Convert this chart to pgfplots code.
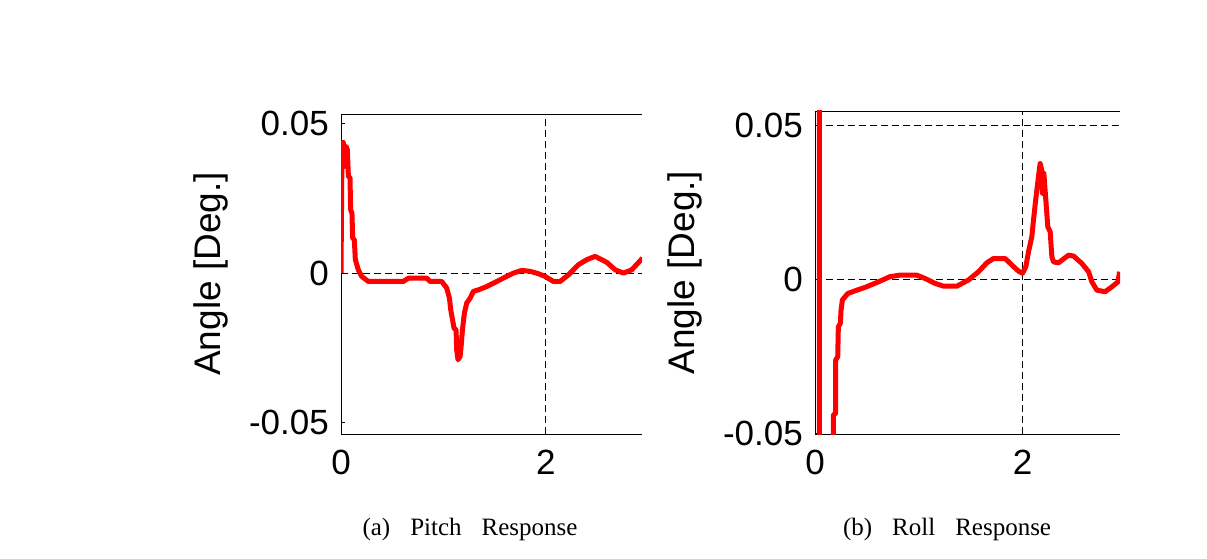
\documentclass[border=0pt]{standalone}
\usepackage{fontspec}
\setmainfont{Liberation Sans}
\newfontfamily\capfont{Liberation Serif}
\usepackage{pgfplots}
\pgfplotsset{compat=1.18}

\definecolor{respred}{RGB}{255,0,0}

\pgfplotsset{
  resp/.style={
    scale only axis, anchor=south west,
    xmin=0, xmax=2.94,
    xtick={0,2},
    axis x line=box, axis y line=left,
    axis line style={-, line width=0.9pt, black},
    tick align=inside, tick pos=left,
    major tick length=4pt,
    tick style={black, line width=0.8pt},
    grid style={black, line width=0.8pt, dash pattern=on 7pt off 4pt},
    scaled y ticks=false,
    /pgf/number format/assume math mode=true,
    /pgf/number format/fixed,
    /pgf/number format/precision=2,
    tick label style={font=\fontsize{35}{40}\selectfont},
    yticklabel style={inner sep=0pt, xshift=-12pt},
    xticklabel style={inner sep=0pt, yshift=-16pt},
    ylabel={Angle [Deg.]},
    ylabel style={at={(rel axis cs:0,0.5)}, anchor=center, yshift=130pt,
      font=\fontsize{37}{42}\selectfont},
    xlabel style={anchor=center, font=\capfont\fontsize{25}{30}\selectfont},
  },
  respline/.style={respred, line width=5pt, line join=round},
}

\begin{document}
\begin{tikzpicture}
\useasboundingbox (0,0) rectangle (1207pt,558pt);

% (a) pitch
\begin{axis}[resp,
  at={(341pt,124pt)}, width=301pt, height=320pt,
  ymin=-0.0538, ymax=0.0532,
  ytick={-0.05,0.05},
  extra y ticks={0}, extra y tick labels={0},
  extra y tick style={ymajorgrids=true},
  xmajorgrids,
  xlabel={(a)\hspace{0.8em}Pitch\hspace{0.8em}Response},
  xlabel style={at={(rel axis cs:0.4286,0)}, yshift=-95pt},
]
\addplot[respline] coordinates {
(0,0) (0.010,0.0435) (0.023,0.0437) (0.036,0.0357) (0.049,0.0424)
(0.062,0.0413) (0.072,0.0324) (0.088,0.0318) (0.094,0.0212) (0.107,0.0201)
(0.114,0.0117) (0.130,0.0112) (0.140,0.0045) (0.169,0.0011) (0.202,-0.0011)
(0.267,-0.0028) (0.609,-0.0028) (0.658,-0.0017) (0.837,-0.0017) (0.870,-0.0028)
(0.984,-0.0028) (1.033,-0.0050) (1.059,-0.0084) (1.072,-0.0123) (1.104,-0.0184)
(1.124,-0.0190) (1.130,-0.0257) (1.143,-0.0290) (1.163,-0.0279) (1.173,-0.0246)
(1.186,-0.0190) (1.205,-0.0134) (1.228,-0.0100) (1.261,-0.0084) (1.293,-0.0061)
(1.342,-0.0056) (1.423,-0.0045) (1.521,-0.0028) (1.619,-0.0011) (1.684,0)
(1.765,0.0009) (1.847,0.0006) (1.928,-0.0002) (1.993,-0.0011) (2.075,-0.0028)
(2.140,-0.0028) (2.221,-0.0006) (2.319,0.0028) (2.401,0.0045) (2.482,0.0056)
(2.596,0.0036) (2.678,0.0011) (2.759,0) (2.840,0.0011) (2.945,0.0050)
};
\end{axis}

% (b) roll
\begin{axis}[resp,
  at={(815pt,124pt)}, width=305pt, height=323pt,
  ymin=-0.0503, ymax=0.0548,
  ytick={-0.05},
  extra y ticks={0,0.05},
  extra y tick style={ymajorgrids=true},
  xmajorgrids,
  xlabel={(b)\hspace{0.8em}Roll\hspace{0.8em}Response},
  xlabel style={at={(rel axis cs:0.433,0)}, yshift=-95pt},
]
\addplot[respline] coordinates {
(0.042,0.09) (0.042,-0.09) (0.177,-0.09)
(0.177,-0.0441) (0.199,-0.0436) (0.199,-0.0262) (0.219,-0.0252) (0.225,-0.0154)
(0.244,-0.0143) (0.251,-0.0100) (0.264,-0.0067) (0.315,-0.0046) (0.386,-0.0037)
(0.482,-0.0026) (0.611,-0.0008) (0.723,0.0009) (0.820,0.0014) (0.981,0.0014)
(1.061,0.0003) (1.158,-0.0013) (1.238,-0.0022) (1.367,-0.0022) (1.479,-0.0002)
(1.576,0.0025) (1.656,0.0054) (1.720,0.0068) (1.833,0.0068) (1.897,0.0047)
(1.961,0.0027) (2.000,0.0020) (2.032,0.0041) (2.058,0.0090) (2.090,0.0139)
(2.106,0.0193) (2.129,0.0264) (2.154,0.0334) (2.170,0.0377) (2.186,0.0356)
(2.193,0.0280) (2.206,0.0345) (2.225,0.0258) (2.244,0.0171) (2.267,0.0155)
(2.283,0.0074) (2.299,0.0057) (2.347,0.0054) (2.444,0.0079) (2.492,0.0076)
(2.572,0.0052) (2.637,0.0025) (2.669,-0.0008) (2.717,-0.0035) (2.797,-0.0040)
(2.862,-0.0024) (2.920,-0.0008) (2.936,0.0025)
};
\end{axis}
\end{tikzpicture}
\end{document}
